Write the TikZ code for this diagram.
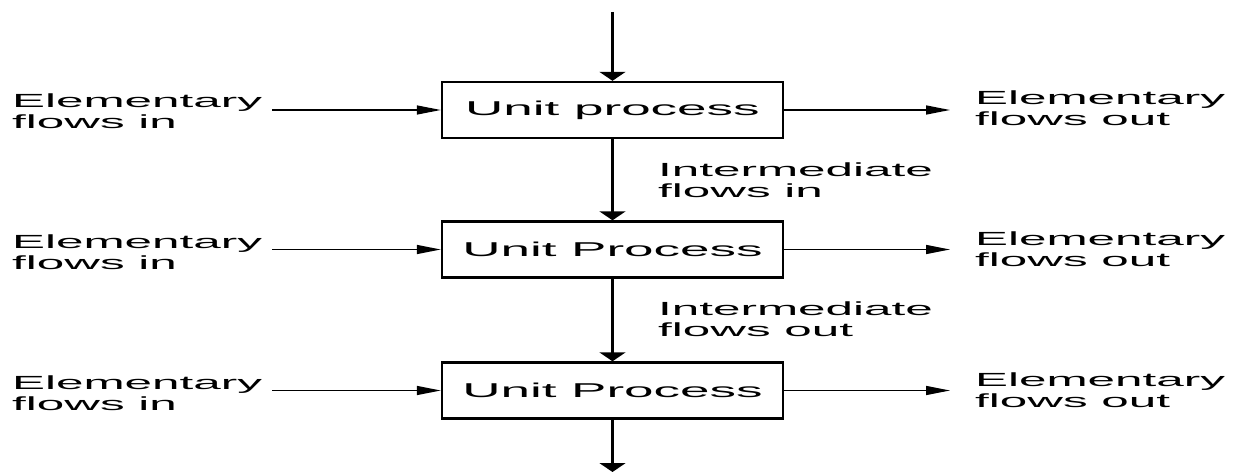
\documentclass[tikz,border=0pt]{standalone}
\usepackage{fontspec}
\newfontfamily\widesans[FakeStretch=2.6]{Liberation Sans}
\newfontfamily\boxsans[FakeStretch=2.65]{Liberation Sans}
\usetikzlibrary{arrows.meta}
\begin{document}
\begin{tikzpicture}[x=1pt,y=-1pt,
  procbox/.style={draw=black,line width=2.4pt,minimum width=341pt,minimum height=56pt,inner sep=0pt,
    font=\boxsans\fontsize{20}{22}\selectfont},
  lbl/.style={anchor=west,align=left,inner sep=0pt,font=\widesans\fontsize{19}{21}\selectfont},
  vflow/.style={line width=2.4pt,-{Triangle[length=9pt,width=26pt]}},
  hflow/.style={line width=1.4pt,-{Triangle[length=24pt,width=9pt]}}]
\useasboundingbox (0,0) rectangle (1234,473);
\node[procbox] (p1) at (612.5,110) {Unit process};
\node[procbox] (p2) at (612.5,249.5) {Unit Process};
\node[procbox] (p3) at (612.5,390.5) {Unit Process};
\coordinate (top) at (612.5,12);
\coordinate (bot) at (612.5,472);
\draw[vflow] (top) -- (p1.north);
\draw[vflow] (p1.south) -- (p2.north);
\draw[vflow] (p2.south) -- (p3.north);
\draw[vflow] (p3.south) -- (bot);
\foreach \i/\y in {1/110,2/249.5,3/390.5}{
  \coordinate (lin\i) at (272,\y);
  \coordinate (rout\i) at (950,\y);
  \draw[hflow] (lin\i) -- (p\i.west);
  \draw[hflow] (p\i.east) -- (rout\i);
}
\node[lbl] (l1) at (12,111) {Elementary\\flows in};
\node[lbl] (l2) at (12,252) {Elementary\\flows in};
\node[lbl] (l3) at (12,393) {Elementary\\flows in};
\node[lbl] (r1) at (975,108) {Elementary\\flows out};
\node[lbl] (r2) at (975,249) {Elementary\\flows out};
\node[lbl] (r3) at (975,390) {Elementary\\flows out};
\node[lbl] (i1) at (658,180) {Intermediate\\flows in};
\node[lbl] (i2) at (658,319) {Intermediate\\flows out};
\end{tikzpicture}
\end{document}
